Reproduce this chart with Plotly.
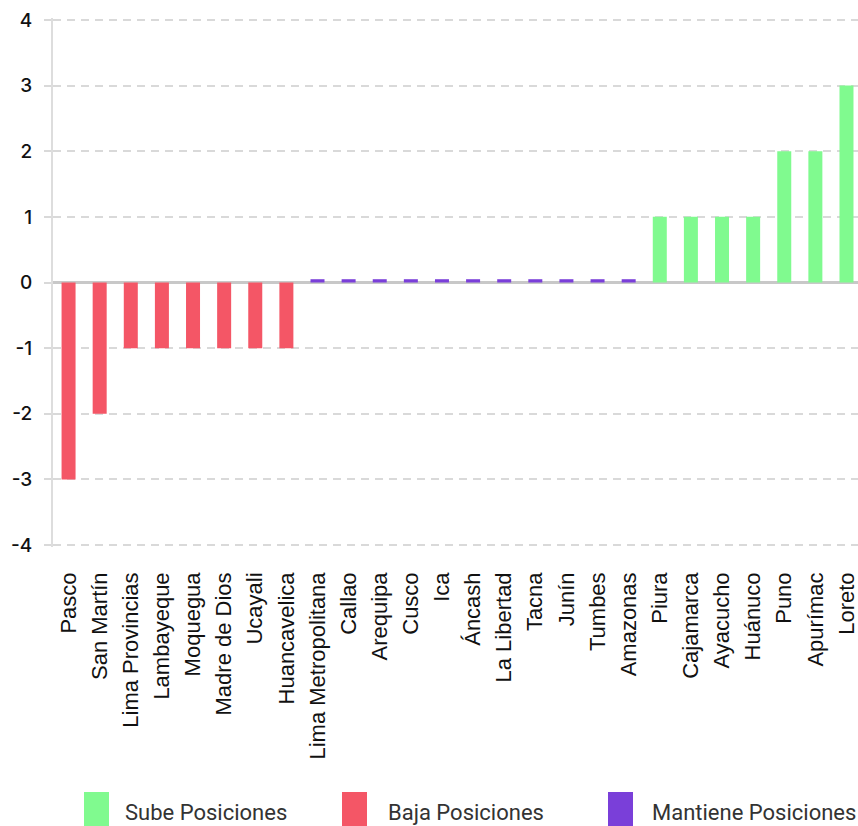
import plotly.graph_objects as go

# ---- data ----
SUBE_REGIONES = ["Piura", "Cajamarca", "Ayacucho", "Huánuco", "Puno", "Apurímac", "Loreto"]
SUBE_VALORES = [1, 1, 1, 1, 2, 2, 3]

BAJA_REGIONES = ["Pasco", "San Martín", "Lima Provincias", "Lambayeque", "Moquegua",
                 "Madre de Dios", "Ucayali", "Huancavelica"]
BAJA_VALORES = [-3, -2, -1, -1, -1, -1, -1, -1]

MANTIENE_REGIONES = ["Lima Metropolitana", "Callao", "Arequipa", "Cusco", "Ica", "Áncash",
                     "La Libertad", "Tacna", "Junín", "Tumbes", "Amazonas"]
MANTIENE_VALORES = [0.05] * 11

ORDEN = BAJA_REGIONES + MANTIENE_REGIONES + SUBE_REGIONES
Y_TICKS = [-4, -3, -2, -1, 0, 1, 2, 3, 4]
Y_TICK_LABELS = ["-4", "-3", "-2", "-1", "0", "1", "2", "3", "4"]

SERIES = [
    ("Sube Posiciones", SUBE_REGIONES, SUBE_VALORES, "#80FA8F"),
    ("Baja Posiciones", BAJA_REGIONES, BAJA_VALORES, "#F45666"),
    ("Mantiene Posiciones", MANTIENE_REGIONES, MANTIENE_VALORES, "#7A3FD9"),
]

W, H = 858, 826
ML, MR, MT, MB = 53, 0, 18, 826 - 547
PW, PH = W - ML - MR, H - MT - MB


def px_x(sx):
    return (sx - ML) / PW


def px_y(sy):
    return (H - MB - sy) / PH


fig = go.Figure()
for name, regs, vals, col in SERIES:
    fig.add_trace(go.Bar(x=regs, y=vals, name=name, marker_color=col,
                         marker_line_width=0, width=0.45, showlegend=False))

# custom legend (squares + labels), positions in screen pixels
legend_pos = [(84, 123), (342, 386), (608, 650)]
for (name, _, _, col), (sx, tx) in zip(SERIES, legend_pos):
    fig.add_shape(type="rect", xref="paper", yref="paper",
                  x0=px_x(sx), x1=px_x(sx + 25), y0=px_y(792), y1=px_y(830),
                  fillcolor=col, line_width=0, layer="above")
    fig.add_annotation(xref="paper", yref="paper", x=px_x(tx), y=px_y(812),
                       text=name, showarrow=False, xanchor="left", yanchor="middle",
                       font=dict(family="Roboto", size=22, color="#333333"))

fig.update_layout(
    width=W, height=H,
    margin=dict(l=ML, r=MR, t=MT, b=MB, pad=0),
    paper_bgcolor="white", plot_bgcolor="white",
    barmode="overlay",
    showlegend=False,
)
fig.update_xaxes(
    type="category", categoryorder="array", categoryarray=ORDEN,
    range=[-0.5, 25.37], tickangle=-90,
    tickfont=dict(family="Liberation Sans, Arial", size=22, color="#111111"),
    showgrid=False, showline=False, ticks="", ticklabelstandoff=20,
)
fig.update_yaxes(
    range=[-4.03, 4.03], tickvals=Y_TICKS, ticktext=Y_TICK_LABELS,
    showgrid=True, gridcolor="#d9d9d9", gridwidth=1.5, griddash="8px,6px",
    zeroline=True, zerolinecolor="#c8c8c8", zerolinewidth=3,
    showline=True, linecolor="#dddddd", linewidth=2,
    ticks="outside", ticklen=7, tickcolor="#d9d9d9", tickwidth=1.5,
    tickfont=dict(family="Inter", size=19, color="#111111", weight=500),
    ticklabelstandoff=8,
)

fig.write_html(
    "out.html",
    config={"displayModeBar": False},
    post_script="document.body.style.margin='0';document.body.style.overflow='hidden';",
)
